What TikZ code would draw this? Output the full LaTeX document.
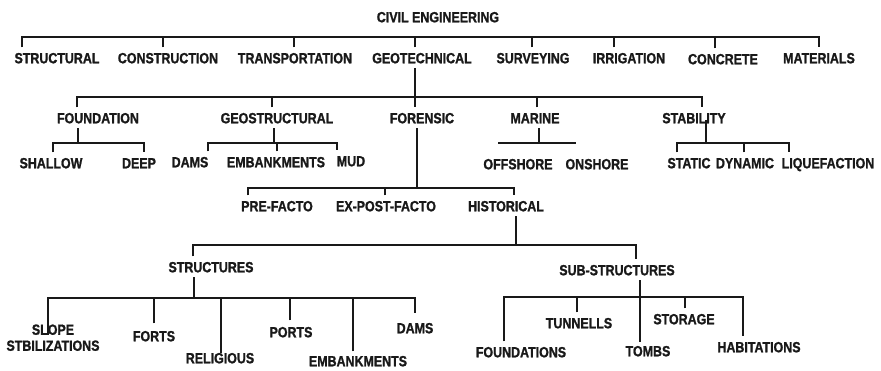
\documentclass[tikz,border=0pt]{standalone}
\usepackage{fontspec}
\setmainfont{Liberation Sans}[FakeStretch=0.84, BoldFeatures={FakeBold=1.2}]

\begin{document}
\begin{tikzpicture}[x=1pt, y=-1pt,
    font=\bfseries\fontsize{14.8}{16}\selectfont,
    tema/.style={text=black!90, text height=10.6pt, text depth=0pt,
                 inner xsep=1pt, inner ysep=5pt, align=center},
    rama/.style={line width=2.4pt, black!90}
]
\useasboundingbox (0,0) rectangle (881,371);

\node[tema] (civil) at (438,17) {CIVIL ENGINEERING};

% primer nivel
\node[tema] (struct) at (57,58)  {STRUCTURAL};
\node[tema] (cons)   at (168,58) {CONSTRUCTION};
\node[tema] (trans)  at (295,58) {TRANSPORTATION};
\node[tema] (geot)   at (422,58) {GEOTECHNICAL};
\node[tema] (surv)   at (533,58) {SURVEYING};
\node[tema] (irri)   at (629,58) {IRRIGATION};
\node[tema] (conc)   at (723,59) {CONCRETE};
\node[tema] (mat)    at (819,58) {MATERIALS};

\coordinate (civBus) at (0,37);
\draw[rama] ([xshift=-35]struct.north) -- ([xshift=-35]struct.north |- civBus)
    -- (mat.north |- civBus) -- (mat.north);
\foreach \n/\d in {cons/-5, trans/-1, geot/-7, surv/-1, irri/-15, conc/-8}
  \draw[rama] ([xshift=\d]\n.north) -- ([xshift=\d]\n.north |- civBus);

% ramas de geotecnia
\node[tema] (found) at (98,118)  {FOUNDATION};
\node[tema] (geos)  at (277,118) {GEOSTRUCTURAL};
\node[tema] (foren) at (422,118) {FORENSIC};
\node[tema] (mar)   at (535,118) {MARINE};
\node[tema] (stab)  at (694,118) {STABILITY};

\coordinate (geoBus) at (0,97);
\draw[rama] ([xshift=-7]geot.south) -- ([xshift=-7]foren.north);
\draw[rama] ([xshift=-21]found.north) -- ([xshift=-21]found.north |- geoBus)
    -- ([xshift=8]stab.north |- geoBus) -- ([xshift=8]stab.north);
\foreach \n/\d in {geos/-5, mar/2}
  \draw[rama] ([xshift=\d]\n.north) -- ([xshift=\d]\n.north |- geoBus);

% cimentaciones
\node[tema] (shal) at (51,163)  {SHALLOW};
\node[tema] (deep) at (139,163) {DEEP};
\coordinate (foundBus) at (0,143);
\draw[rama] ([xshift=-20]found.south) -- ([xshift=-20]found.south |- foundBus);
\draw[rama] ([xshift=2]shal.north) -- ([xshift=2]shal.north |- foundBus)
    -- ([xshift=5]deep.north |- foundBus) -- ([xshift=5]deep.north);

% geoestructural
\node[tema] (dams1) at (190,162) {DAMS};
\node[tema] (emb1)  at (276,162) {EMBANKMENTS};
\node[tema] (mud)   at (351,161) {MUD};
\coordinate (geosBus) at (0,143);
\draw[rama] ([xshift=-3]geos.south) -- ([xshift=-3]geos.south |- geosBus);
\draw[rama] ([xshift=18]dams1.north) -- ([xshift=18]dams1.north |- geosBus)
    -- ([xshift=-14]mud.north |- geosBus) -- ([xshift=-14]mud.north);
\draw[rama] ([xshift=1]emb1.north) -- ([xshift=1]emb1.north |- geosBus);

% marina
\node[tema] (off) at (518,164) {OFFSHORE};
\node[tema] (on)  at (597,164) {ONSHORE};
\coordinate (marBus) at (0,143);
\draw[rama] ([xshift=4]mar.south) -- ([xshift=4]mar.south |- marBus);
\draw[rama] ([xshift=-20]off.north |- marBus) -- ([xshift=-21]on.north |- marBus);

% estabilidad
\node[tema] (stat) at (689,163) {STATIC};
\node[tema] (dyn)  at (745,163) {DYNAMIC};
\node[tema] (liq)  at (828,163) {LIQUEFACTION};
\coordinate (stabBus) at (0,143);
\draw[rama] ([xshift=12,yshift=-2]stab.center) -- ([xshift=12]stab.south |- stabBus);
\draw[rama] ([xshift=-12]stat.north) -- ([xshift=-12]stat.north |- stabBus)
    -- ([xshift=-39]liq.north |- stabBus) -- ([xshift=-39]liq.north);
\draw[rama] ([xshift=-1]dyn.north) -- ([xshift=-1]dyn.north |- stabBus);

% forense
\node[tema] (pre)    at (277,206) {PRE-FACTO};
\node[tema] (expost) at (386,206) {EX-POST-FACTO};
\node[tema] (hist)   at (506,206) {HISTORICAL};
\coordinate (forBus) at (0,188);
\draw[rama] ([xshift=-5]foren.south) -- ([xshift=-5]foren.south |- forBus);
\draw[rama] ([xshift=-29]pre.north) -- ([xshift=-29]pre.north |- forBus)
    -- ([xshift=8]hist.north |- forBus) -- ([xshift=8]hist.north);
\draw[rama] ([xshift=-1]expost.north) -- ([xshift=-1]expost.north |- forBus);

% historico
\node[tema] (strs) at (211,267) {STRUCTURES};
\node[tema] (subs) at (617,270) {SUB-STRUCTURES};
\coordinate (histBus) at (0,245);
\draw[rama] ([xshift=10]hist.south) -- ([xshift=10]hist.south |- histBus);
\draw[rama] ([xshift=-18]strs.north) -- ([xshift=-18]strs.north |- histBus)
    -- ([xshift=19]subs.north |- histBus) -- ([xshift=19]subs.north);

% estructuras
\node[tema, anchor=north] (slope) at (53,335) {SLOPE\\STBILIZATIONS};
\node[tema] (forts) at (154,336) {FORTS};
\node[tema] (relig) at (220,358) {RELIGIOUS};
\node[tema] (ports) at (291,332) {PORTS};
\node[tema] (emb2)  at (358,361) {EMBANKMENTS};
\node[tema] (dams2) at (415,328) {DAMS};
\coordinate (strBus) at (0,298);
\draw[rama] ([xshift=-17]strs.south) -- ([xshift=-17]strs.south |- strBus);
\draw[rama] ([xshift=-5]slope.north) -- ([xshift=-5]slope.north |- strBus)
    -- (dams2.north |- strBus) -- ([yshift=4]dams2.north);
\foreach \n/\d/\g in {forts/0/2, relig/1/-6, ports/-1/1, emb2/-5/-1}
  \draw[rama] ([xshift=\d,yshift=\g]\n.north) -- ([xshift=\d]\n.north |- strBus);

% subestructuras
\node[tema] (fnds)  at (521,352) {FOUNDATIONS};
\node[tema] (tunn)  at (579,323) {TUNNELLS};
\node[tema] (tombs) at (648,351) {TOMBS};
\node[tema] (stor)  at (684,319) {STORAGE};
\node[tema] (habit) at (759,347) {HABITATIONS};
\coordinate (subBus) at (0,297);
\draw[rama] ([xshift=23]subs.south) -- ([xshift=-8,yshift=-2]tombs.north);
\draw[rama] ([xshift=-17]fnds.north) -- ([xshift=-17]fnds.north |- subBus)
    -- ([xshift=-16]habit.north |- subBus) -- ([xshift=-16]habit.north);
\foreach \n/\d in {tunn/-2, stor/1}
  \draw[rama] ([xshift=\d]\n.north) -- ([xshift=\d]\n.north |- subBus);

\end{tikzpicture}
\end{document}
